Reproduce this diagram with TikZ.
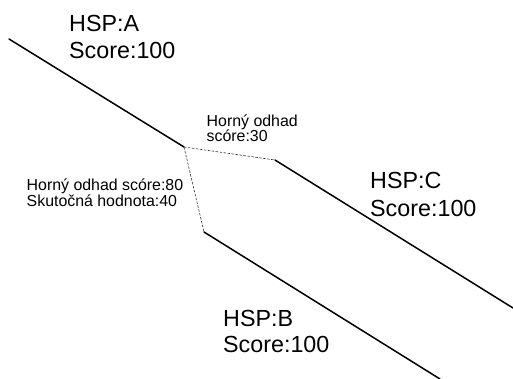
\documentclass[tikz,border=0pt]{standalone}
\usepackage{fontspec}
\setmainfont{Liberation Sans}
\begin{document}
\begin{tikzpicture}[x=1pt,y=-1pt,
  hsp/.style={line width=1.5pt,line cap=round},
  gap/.style={line width=0.6pt,dash pattern=on 2.5pt off 1.5pt,black!80},
  big/.style={anchor=base west,inner sep=0pt,font=\fontsize{23.3}{27}\selectfont},
  small/.style={anchor=base west,inner sep=0pt,font=\fontsize{15.9}{16}\selectfont}]
  \useasboundingbox (0,0) rectangle (513,379);
  % segment end points
  \coordinate (a0) at (9,39);
  \coordinate (j)  at (184,147);
  \coordinate (c0) at (275,160);
  \coordinate (c1) at (513,308);
  \coordinate (b0) at (204,232);
  \coordinate (b1) at (440,379);
  % alignment segments
  \draw[hsp] (a0) -- (j);
  \draw[hsp] (c0) -- (c1);
  \draw[hsp] (b0) -- (b1);
  % gaps between segments
  \draw[gap] (j) -- (c0);
  \draw[gap] (j) -- (b0);
  % labels
  \node[big] (aName)  at (69,32)  {HSP:A};
  \node[big] (aScore) at (69,59)  {Score:100};
  \node[big] (cName)  at (370,189) {HSP:C};
  \node[big] (cScore) at (370,216) {Score:100};
  \node[big] (bName)  at (223,326) {HSP:B};
  \node[big] (bScore) at (223,352) {Score:100};
  \node[small] (upC)   at (206.5,126.5) {Horný odhad};
  \node[small] (upC2)  at (206.5,142)   {scóre:30};
  \node[small] (upB)   at (26.5,191)    {Horný odhad scóre:80};
  \node[small] (realB) at (26.5,207)    {Skutočná hodnota:40};
\end{tikzpicture}
\end{document}
